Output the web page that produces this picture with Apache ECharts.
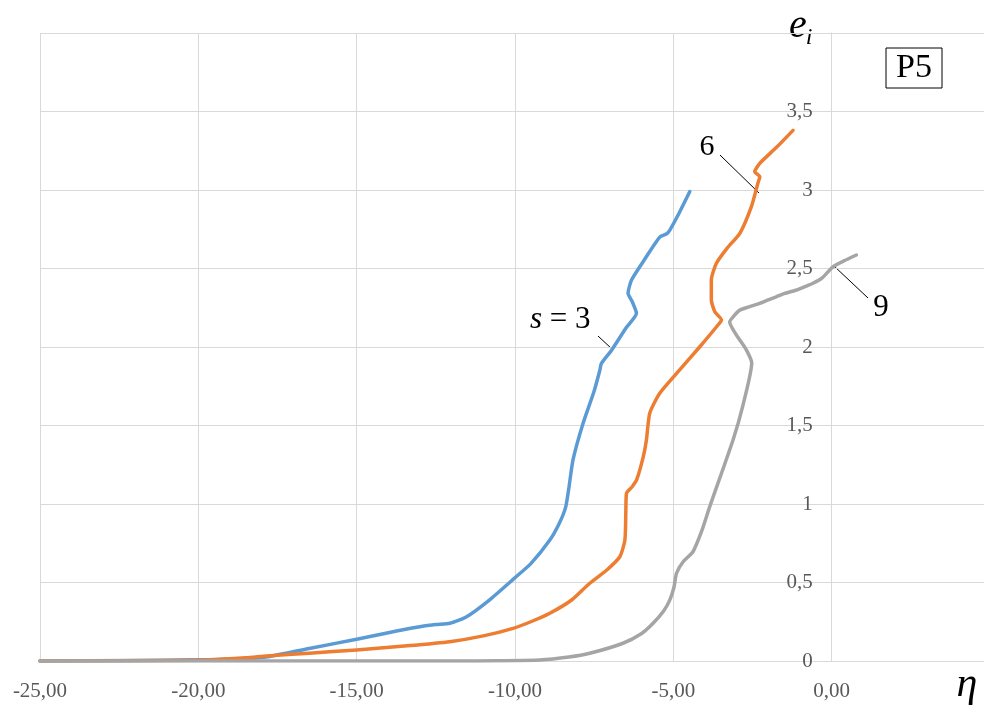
<!DOCTYPE html>
<html>
<head>
<meta charset="utf-8">
<script src="https://cdn.jsdelivr.net/npm/echarts@6/dist/echarts.min.js"></script>
<style>
html,body{margin:0;padding:0;background:#fff;}
#chart{width:984px;height:705px;}
</style>
</head>
<body>
<div id="chart"></div>
<script>
// ---- data ----
var xTicks = [-25, -20, -15, -10, -5, 0, 5];
var yTicks = [0, 0.5, 1, 1.5, 2, 2.5, 3, 3.5, 4];

var blueX = [-25, -22, -20, -18.5, -17.8, -16.5, -15, -14, -13.1, -12.5, -12.06, -11.53, -10.8, -10.06, -9.5, -8.9, -8.6, -8.4, -8.3, -8.17, -7.85, -7.5, -7.32, -7.27, -6.95, -6.5, -6.165, -6.3, -6.43, -6.32, -5.9, -5.43, -5.22, -5.11, -4.8, -4.48];
var blueY = [0, 0.003, 0.008, 0.015, 0.027, 0.08, 0.138, 0.18, 0.215, 0.232, 0.24, 0.282, 0.39, 0.52, 0.62, 0.77, 0.877, 0.98, 1.1, 1.28, 1.514, 1.72, 1.853, 1.896, 1.98, 2.12, 2.215, 2.29, 2.342, 2.427, 2.56, 2.70, 2.72, 2.745, 2.86, 2.99];

var orangeX = [-25, -20, -18.5, -17.84, -16.5, -15, -13.5, -12.06, -11, -10.06, -9.5, -8.9, -8.2, -7.64, -7.1, -6.69, -6.53, -6.5, -6.48, -6.3, -6.16, -5.95, -5.85, -5.745, -5.43, -4.8, -4.17, -3.59, -3.48, -3.69, -3.80, -3.80, -3.64, -3.3, -2.90, -2.535, -2.33, -2.27, -2.43, -2.27, -1.75, -1.22];
var orangeY = [0, 0.005, 0.02, 0.032, 0.05, 0.07, 0.095, 0.123, 0.16, 0.208, 0.25, 0.304, 0.39, 0.495, 0.58, 0.664, 0.77, 0.95, 1.068, 1.11, 1.153, 1.3, 1.408, 1.578, 1.705, 1.854, 2.0, 2.14, 2.172, 2.225, 2.30, 2.427, 2.533, 2.63, 2.724, 2.894, 3.043, 3.085, 3.117, 3.17, 3.27, 3.38];

var grayX = [-25, -15, -12, -10.5, -9.22, -8.3, -7.64, -6.59, -6.0, -5.64, -5.3, -5.11, -4.98, -4.90, -4.69, -4.38, -4.1, -3.85, -3.115, -2.8, -2.525, -2.69, -3.22, -3.06, -2.9, -2.59, -2.27, -2.0, -1.75, -1.5, -1.11, -0.9, -0.59, -0.3, 0.04, 0.4, 0.78];
var grayY = [0, 0, 0, 0.002, 0.006, 0.025, 0.049, 0.113, 0.175, 0.24, 0.32, 0.389, 0.47, 0.559, 0.632, 0.696, 0.83, 0.983, 1.408, 1.63, 1.898, 1.98, 2.161, 2.204, 2.235, 2.257, 2.278, 2.30, 2.32, 2.34, 2.363, 2.38, 2.406, 2.44, 2.511, 2.55, 2.586];

function zip(xs, ys) { return xs.map(function (x, i) { return [x, ys[i]]; }); }

var SERIF = '"Liberation Serif", "DejaVu Serif", serif';
var chart = echarts.init(document.getElementById('chart'));

var GRID_LEFT = 40, GRID_RIGHT = -6, W = 984;
var xMin = xTicks[0], xMax = xTicks[xTicks.length - 1];
var gridW = W - GRID_LEFT - GRID_RIGHT;
// place the value axis where x = 0 (as in the source chart)
var yAxisOffset = -((0 - xMin) / (xMax - xMin)) * gridW;

function lineSeries(name, xs, ys, color) {
  return {
    name: name, type: 'line', data: zip(xs, ys), symbol: 'none', smooth: 0.2,
    lineStyle: { color: color, width: 3.5, cap: 'round', join: 'round' },
    animation: false
  };
}

chart.setOption({
  animation: false,
  backgroundColor: '#ffffff',
  grid: { left: GRID_LEFT, top: 33, right: GRID_RIGHT, bottom: 44, containLabel: false, outerBoundsMode: 'none' },
  xAxis: {
    type: 'value', min: xMin, max: xMax, interval: 5,
    axisLine: { show: true, onZero: false, lineStyle: { color: '#d9d9d9', width: 1 } },
    axisTick: { show: false },
    splitLine: { show: true, lineStyle: { color: '#d9d9d9', width: 1 } },
    axisLabel: {
      margin: 20, color: '#595959', fontFamily: SERIF, fontSize: 21,
      formatter: function (v) { return v > 0 ? '' : v.toFixed(2).replace('.', ','); }
    }
  },
  yAxis: {
    type: 'value', min: yTicks[0], max: yTicks[yTicks.length - 1], interval: 0.5,
    position: 'left', offset: yAxisOffset,
    axisLine: { show: true, onZero: false, lineStyle: { color: '#d9d9d9', width: 1 } },
    axisTick: { show: false },
    splitLine: { show: true, lineStyle: { color: '#d9d9d9', width: 1 } },
    axisLabel: {
      margin: 19, color: '#595959', fontFamily: SERIF, fontSize: 21,
      formatter: function (v) { return v >= 4 ? '' : String(v).replace('.', ','); }
    }
  },
  series: [
    lineSeries('s = 3', blueX, blueY, '#5B9BD5'),
    lineSeries('6', orangeX, orangeY, '#ED7D31'),
    lineSeries('9', grayX, grayY, '#A5A5A5')
  ],
  graphic: [
    { type: 'rect', shape: { x: 886, y: 48, width: 56, height: 40 }, style: { fill: '#fff', stroke: '#000', lineWidth: 1 } },
    { type: 'text', style: { x: 914, y: 68, text: 'P5', font: '34px ' + SERIF, fill: '#000', textAlign: 'center', textVerticalAlign: 'middle' } },
    { type: 'text', style: { x: 798, y: 26, text: 'e', font: 'italic 40px ' + SERIF, fill: '#000', textAlign: 'center', textVerticalAlign: 'middle' } },
    { type: 'text', style: { x: 809, y: 38, text: 'i', font: 'italic 24px ' + SERIF, fill: '#000', textAlign: 'center', textVerticalAlign: 'middle' } },
    { type: 'text', style: { x: 967, y: 685, text: 'η', font: 'italic 42px ' + SERIF, fill: '#000', textAlign: 'center', textVerticalAlign: 'middle' } },
    { type: 'text', style: { x: 530, y: 320, text: '{s|s} {n|= 3}', rich: { s: { font: 'italic 31px ' + SERIF, fill: '#000' }, n: { font: '31px ' + SERIF, fill: '#000' } }, font: '31px ' + SERIF, fill: '#000', textVerticalAlign: 'middle' } },
    { type: 'line', shape: { x1: 598, y1: 336, x2: 612, y2: 349 }, style: { stroke: '#000', lineWidth: 1 } },
    { type: 'text', style: { x: 707, y: 147, text: '6', font: '30px ' + SERIF, fill: '#000', textAlign: 'center', textVerticalAlign: 'middle' } },
    { type: 'line', shape: { x1: 720, y1: 155, x2: 759, y2: 193 }, style: { stroke: '#000', lineWidth: 1 } },
    { type: 'text', style: { x: 881, y: 308, text: '9', font: '31px ' + SERIF, fill: '#000', textAlign: 'center', textVerticalAlign: 'middle' } },
    { type: 'line', shape: { x1: 834, y1: 266, x2: 868, y2: 298 }, style: { stroke: '#000', lineWidth: 1 } }
  ]
});
</script>
</body>
</html>
